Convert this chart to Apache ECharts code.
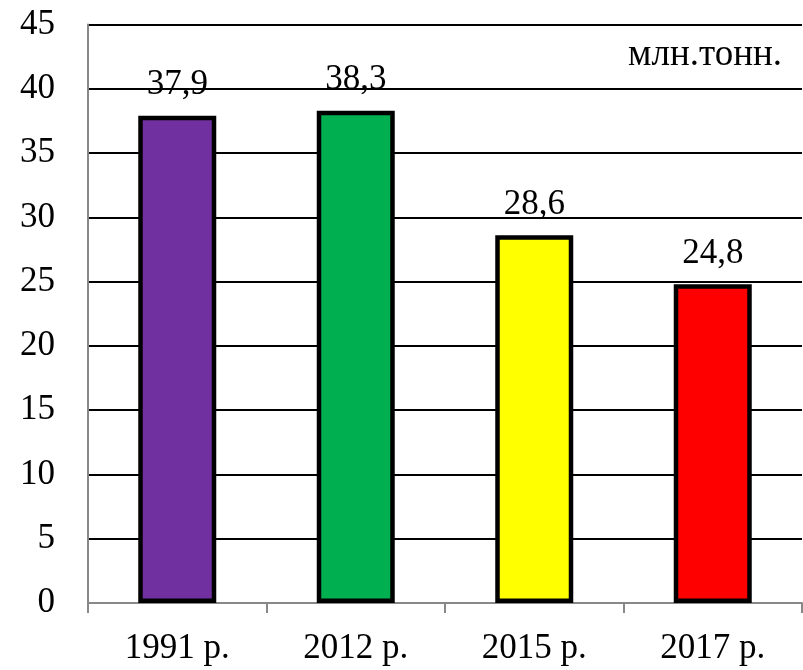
<!DOCTYPE html>
<html>
<head>
<meta charset="utf-8">
<script src="https://cdn.jsdelivr.net/npm/echarts@6/dist/echarts.min.js"></script>
<style>
    html, body { margin: 0; padding: 0; background: #fff; }
    #main { width: 803px; height: 670px; }
</style>
</head>
<body>
<div id="main"></div>
<script>
// дані
const categories = ['1991 р.', '2012 р.', '2015 р.', '2017 р.'];
const values = [37.9, 38.3, 28.6, 24.8];
const barColors = ['#7030A0', '#00B050', '#FFFF00', '#FF0000'];
const unitText = 'млн.тонн.';

const font = '"Liberation Serif", "Times New Roman", serif';

const myChart = echarts.init(document.getElementById('main'));

const option = {
    backgroundColor: '#fff',
    animation: false,
    grid: {
        left: 88,
        right: 1,
        top: 24.5,
        bottom: 67
    },
    graphic: [{
        type: 'text',
        right: 21,
        top: 37,
        style: {
            text: unitText,
            font: '37px ' + font,
            fill: '#000'
        }
    }],
    xAxis: {
        type: 'category',
        data: categories,
        axisLine: { lineStyle: { color: '#888', width: 2 } },
        axisTick: { show: true, length: 10, lineStyle: { color: '#888', width: 2 } },
        axisLabel: {
            color: '#000',
            fontFamily: font,
            fontSize: 35,
            margin: 28
        }
    },
    yAxis: {
        type: 'value',
        min: 0,
        max: 45,
        interval: 5,
        axisLine: { show: true, lineStyle: { color: '#888', width: 2 } },
        axisTick: { show: false },
        splitLine: { lineStyle: { color: '#000', width: 2 } },
        axisLabel: {
            color: '#000',
            fontFamily: font,
            fontSize: 35,
            margin: 33
        }
    },
    series: [{
        type: 'bar',
        barWidth: 78,
        data: values.map((v, i) => ({
            value: v,
            itemStyle: { color: barColors[i] }
        })),
        itemStyle: {
            borderColor: '#000',
            borderWidth: 4.5
        },
        label: {
            show: true,
            position: 'top',
            distance: 13,
            color: '#000',
            fontFamily: font,
            fontSize: 35,
            formatter: p => String(p.value).replace('.', ',')
        }
    }]
};

myChart.setOption(option);
</script>
</body>
</html>
